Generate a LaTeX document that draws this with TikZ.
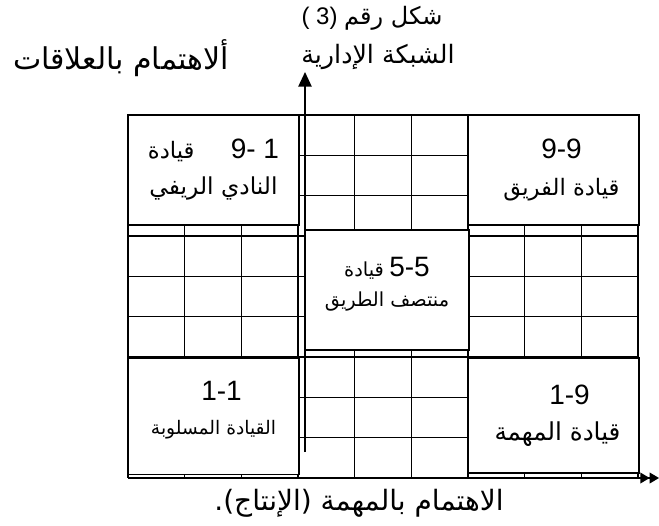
\documentclass[tikz,border=0pt]{standalone}
\usepackage{fontspec}
\setmainfont{Liberation Sans}
\newfontfamily\arabicfont[Script=Arabic]{DejaVu Sans}
\TeXXeTstate=1
\usetikzlibrary{arrows.meta}

\newcommand{\ar}[1]{{\arabicfont\beginR #1\endR}}
\newcommand{\nums}[1]{{\fontsize{21}{24}\selectfont #1}}

\tikzset{
  gridline/.style={black, line width=1.1pt},
  stylebox/.style={draw, fill=white, line width=1.1pt, align=center,
                   inner sep=0pt, font=\fontsize{17}{20}\selectfont},
  axisline/.style={black, line width=1.1pt},
}

\begin{document}
\begin{tikzpicture}[x=0.75pt, y=-0.75pt]
    \useasboundingbox (0,0) rectangle (659,525);

    % --- Rejilla 9x9 ---
    \foreach \i in {0,...,9} {
      \draw[gridline] ({128+\i*56.67}, 115) -- ({128+\i*56.67}, 478);
      \draw[gridline] (128, {115+\i*40.33}) -- (638, {115+\i*40.33});
    }

    % --- Cajas de estilos ---
    \node[stylebox, minimum width=128.3pt, minimum height=82.5pt] (clubbox) at (213.5,170)
      {\ar{قيادة}\hspace{1.6em}\nums{9- 1}\\[7pt]{\fontsize{17.5}{20}\selectfont\ar{النادي الريفي}}};
    \node[stylebox, minimum width=128.3pt, minimum height=82.5pt] (teambox) at (553.5,170)
      {\hspace*{12pt}\nums{9-9}\\[8pt]\hspace*{12pt}\ar{قيادة الفريق}};
    \node[stylebox, minimum width=123pt, minimum height=90pt,
          font=\fontsize{14.5}{17}\selectfont] (midbox) at (387,290)
      {\ar{قيادة} \nums{5-5}\\[6pt]\ar{منتصف الطريق}\\[-5pt]\mbox{}};
    \node[stylebox, minimum width=128.3pt, minimum height=87pt,
          font=\fontsize{14}{17}\selectfont] (poorbox) at (213.5,416.5)
      {\hspace*{12pt}\nums{1-1}\\[8pt]\ar{القيادة المسلوبة}\\[-4pt]\mbox{}};
    \node[stylebox, minimum width=128.3pt, minimum height=86pt,
          font=\fontsize{18.5}{21}\selectfont] (taskbox) at (553.5,415.5)
      {\hspace*{24pt}\nums{1-9}\\[6pt]\hspace*{6pt}\ar{قيادة المهمة}};

    % --- Ejes ---
    \coordinate (origin) at (305,452);
    \coordinate (ytop) at (305,72);
    \coordinate (xstart) at (128,478);
    \coordinate (xend) at (659,478);
    \draw[axisline, -{Triangle[length=11pt, width=10pt]}] (origin) -- (ytop);
    \draw[axisline, -{Triangle[length=7pt, width=8pt]Triangle[length=7pt, width=8pt]}] (xstart) -- (xend);

    % --- Rotulos ---
    \node[font=\fontsize{18}{20}\selectfont] (figno) at (372,18) {( 3) \ar{شكل رقم}};
    \node[font=\fontsize{19}{22}\selectfont] (gridname) at (378,57) {\ar{الشبكة الإدارية}};
    \node[font=\fontsize{22.5}{24}\selectfont] (ylabel) at (121,58) {\ar{ألاهتمام بالعلاقات}};
    \node[font=\fontsize{21}{24}\selectfont] (xlabel) at (359,503) {\ar{الاهتمام بالمهمة (الإنتاج).}};

\end{tikzpicture}
\end{document}
